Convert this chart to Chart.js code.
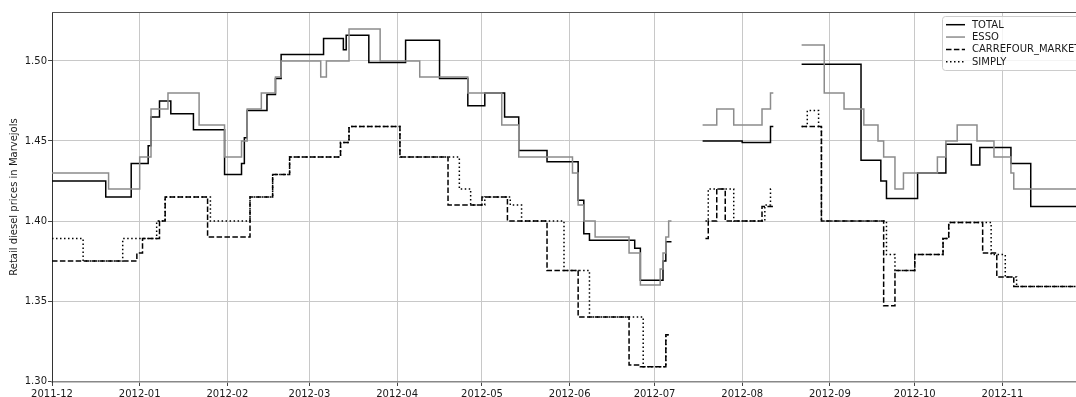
<!DOCTYPE html>
<html>
<head>
<meta charset="utf-8">
<script src="https://cdn.jsdelivr.net/npm/chart.js@4.4.1/dist/chart.umd.min.js"></script>
<style>
  html, body { margin: 0; padding: 0; background: #fff; overflow: hidden; }
  #chart { display: block; }
</style>
</head>
<body>
<canvas id="chart" width="1076" height="397"></canvas>
<script>
// x axis runs from the first day of Dec 2011, one tick per month
const xStart = '2011-12-01';
const xEnd = '2012-11-27';
const xTickLabels = ['2011-12', '2012-01', '2012-02', '2012-03', '2012-04', '2012-05',
                     '2012-06', '2012-07', '2012-08', '2012-09', '2012-10', '2012-11'];
const yTickValues = [1.30, 1.35, 1.40, 1.45, 1.50];
const yMin = 1.2994;
const yMax = 1.5306;

// each series: dates where the price changes, and the new price (null = no data)
const totalDates = ['2011-12-01', '2011-12-20', '2011-12-29', '2012-01-04', '2012-01-05', '2012-01-08',
  '2012-01-12', '2012-01-20', '2012-01-31', '2012-02-06', '2012-02-07', '2012-02-08', '2012-02-15',
  '2012-02-18', '2012-02-20', '2012-03-06', '2012-03-13', '2012-03-14', '2012-03-22', '2012-04-04',
  '2012-04-16', '2012-04-26', '2012-05-02', '2012-05-09', '2012-05-14', '2012-05-24', '2012-06-04',
  '2012-06-06', '2012-06-08', '2012-06-24', '2012-06-26', '2012-07-04', '2012-07-05', '2012-07-07',
  '2012-07-12', '2012-07-18', '2012-08-01', '2012-08-11', '2012-08-12', '2012-08-17', '2012-08-22',
  '2012-09-12', '2012-09-19', '2012-09-21', '2012-10-02', '2012-10-12', '2012-10-21', '2012-10-24',
  '2012-11-04', '2012-11-11', '2012-11-30'];
const totalValues = [1.425, 1.415, 1.436, 1.447, 1.465, 1.475,
  1.467, 1.457, 1.429, 1.436, 1.452, 1.469, 1.479,
  1.489, 1.504, 1.514, 1.507, 1.516, 1.499, 1.513,
  1.489, 1.472, 1.480, 1.465, 1.444, 1.437, 1.413,
  1.392, 1.388, 1.383, 1.363, 1.375, 1.387, 1.387,
  null, 1.450, 1.449, 1.459, 1.459, null, 1.498,
  1.438, 1.425, 1.414, 1.430, 1.448, 1.435, 1.446,
  1.436, 1.409, 1.409];

const essoDates = ['2011-12-01', '2011-12-21', '2012-01-01', '2012-01-05', '2012-01-11', '2012-01-22',
  '2012-01-31', '2012-02-06', '2012-02-08', '2012-02-13', '2012-02-18', '2012-02-20', '2012-03-05',
  '2012-03-07', '2012-03-15', '2012-03-26', '2012-04-09', '2012-04-26', '2012-05-08', '2012-05-14',
  '2012-06-02', '2012-06-04', '2012-06-06', '2012-06-10', '2012-06-22', '2012-06-26', '2012-07-03',
  '2012-07-04', '2012-07-05', '2012-07-06', '2012-07-07', '2012-07-12', '2012-07-18', '2012-07-23',
  '2012-07-29', '2012-08-08', '2012-08-11', '2012-08-12', '2012-08-17', '2012-08-22', '2012-08-30',
  '2012-09-06', '2012-09-13', '2012-09-18', '2012-09-20', '2012-09-24', '2012-09-27', '2012-10-09',
  '2012-10-12', '2012-10-16', '2012-10-23', '2012-10-29', '2012-11-04', '2012-11-05', '2012-11-30'];
const essoValues = [1.430, 1.420, 1.440, 1.470, 1.480, 1.460,
  1.440, 1.450, 1.470, 1.480, 1.490, 1.500, 1.490,
  1.500, 1.520, 1.500, 1.490, 1.480, 1.460, 1.440,
  1.430, 1.410, 1.400, 1.390, 1.380, 1.360, 1.370,
  1.380, 1.390, 1.400, 1.400, null, 1.460, 1.470,
  1.460, 1.470, 1.480, 1.480, null, 1.510, 1.480,
  1.470, 1.460, 1.450, 1.440, 1.420, 1.430, 1.440,
  1.450, 1.460, 1.450, 1.440, 1.430, 1.420, 1.420];

const carrefourDates = ['2011-12-01', '2011-12-31', '2012-01-02', '2012-01-08', '2012-01-10', '2012-01-25',
  '2012-02-09', '2012-02-17', '2012-02-23', '2012-03-12', '2012-03-15', '2012-04-02', '2012-04-19',
  '2012-05-01', '2012-05-10', '2012-05-24', '2012-06-04', '2012-06-22', '2012-06-26', '2012-07-05',
  '2012-07-06', '2012-07-12', '2012-07-19', '2012-07-20', '2012-07-23', '2012-07-26', '2012-08-08',
  '2012-08-12', '2012-08-17', '2012-08-22', '2012-08-29', '2012-09-20', '2012-09-24', '2012-10-01',
  '2012-10-11', '2012-10-13', '2012-10-25', '2012-10-30', '2012-11-05', '2012-11-30'];
const carrefourValues = [1.375, 1.380, 1.389, 1.400, 1.415, 1.390,
  1.415, 1.429, 1.440, 1.449, 1.459, 1.440, 1.410,
  1.415, 1.400, 1.369, 1.340, 1.310, 1.309, 1.329,
  1.329, null, 1.389, 1.400, 1.420, 1.400, 1.409,
  1.409, null, 1.459, 1.400, 1.347, 1.369, 1.379,
  1.389, 1.399, 1.380, 1.365, 1.359, 1.359];

const simplyDates = ['2011-12-01', '2011-12-12', '2011-12-26', '2012-01-07', '2012-01-10', '2012-01-26',
  '2012-02-09', '2012-02-17', '2012-02-23', '2012-03-12', '2012-03-15', '2012-04-02', '2012-04-23',
  '2012-04-27', '2012-05-02', '2012-05-11', '2012-05-15', '2012-05-30', '2012-06-08', '2012-06-27',
  '2012-07-05', '2012-07-06', '2012-07-12', '2012-07-19', '2012-07-20', '2012-07-29', '2012-08-09',
  '2012-08-11', '2012-08-12', '2012-08-17', '2012-08-22', '2012-08-24', '2012-08-28', '2012-08-29',
  '2012-09-21', '2012-09-24', '2012-10-01', '2012-10-11', '2012-10-13', '2012-10-28', '2012-11-02',
  '2012-11-06', '2012-11-30'];
const simplyValues = [1.389, 1.375, 1.389, 1.400, 1.415, 1.400,
  1.415, 1.429, 1.440, 1.449, 1.459, 1.440, 1.420,
  1.410, 1.415, 1.410, 1.400, 1.369, 1.340, 1.309,
  1.329, 1.329, null, 1.400, 1.420, 1.400, 1.410,
  1.420, 1.420, null, 1.459, 1.469, 1.459, 1.400,
  1.379, 1.369, 1.379, 1.389, 1.399, 1.379, 1.365,
  1.359, 1.359];

// days since xStart, used as the linear x value
function dayOf(s) {
  const p = s.split('-').map(Number);
  const b = xStart.split('-').map(Number);
  return (Date.UTC(p[0], p[1] - 1, p[2] || 1) - Date.UTC(b[0], b[1] - 1, b[2])) / 86400000;
}

function points(dates, values) {
  return dates.map((d, i) => ({ x: dayOf(d), y: values[i] }));
}

const FONT = { family: 'DejaVu Sans', size: 10 };
const TEXT = '#1a1a1a';

// matplotlib-like legend box in the upper right corner of the plot
const boxLegend = {
  id: 'boxLegend',
  afterDraw(chart) {
    const ctx = chart.ctx;
    const x0 = 942.5, y0 = 16.5, w = 160, h = 54;
    ctx.save();
    ctx.beginPath();
    ctx.roundRect(x0, y0, w, h, 3);
    ctx.fillStyle = 'rgba(255,255,255,0.8)';
    ctx.fill();
    ctx.strokeStyle = '#cccccc';
    ctx.lineWidth = 1;
    ctx.stroke();
    ctx.font = '10px "DejaVu Sans"';
    ctx.textBaseline = 'middle';
    ctx.fillStyle = TEXT;
    chart.data.datasets.forEach((ds, i) => {
      const y = 24.7 + i * 12.35;
      ctx.beginPath();
      ctx.setLineDash(ds.borderDash || []);
      ctx.strokeStyle = ds.borderColor;
      ctx.lineWidth = ds.borderWidth;
      ctx.moveTo(946, y);
      ctx.lineTo(965, y);
      ctx.stroke();
      ctx.setLineDash([]);
      ctx.fillText(ds.label, 972, y + 0.5);
    });
    ctx.restore();
  }
};

// top spine of the frame
const topSpine = {
  id: 'topSpine',
  afterDraw(chart) {
    const { ctx, chartArea } = chart;
    ctx.save();
    ctx.strokeStyle = '#555';
    ctx.lineWidth = 1;
    ctx.beginPath();
    ctx.moveTo(chartArea.left, chartArea.top + 0.5);
    ctx.lineTo(chartArea.right, chartArea.top + 0.5);
    ctx.stroke();
    ctx.restore();
  }
};

// horizontal first, then vertical at the date of the change
const lineStyle = { borderWidth: 1.5, pointRadius: 0, stepped: 'before', spanGaps: false, fill: false };

new Chart(document.getElementById('chart'), {
  type: 'line',
  data: {
    datasets: [
      { label: 'TOTAL', data: points(totalDates, totalValues), borderColor: '#000000', borderDash: [], order: 4, ...lineStyle },
      { label: 'ESSO', data: points(essoDates, essoValues), borderColor: '#8c8c8c', borderDash: [], order: 3, ...lineStyle },
      { label: 'CARREFOUR_MARKET', data: points(carrefourDates, carrefourValues), borderColor: '#000000', borderDash: [5.5, 2.4], order: 2, ...lineStyle },
      { label: 'SIMPLY', data: points(simplyDates, simplyValues), borderColor: '#000000', borderDash: [1.5, 2.5], order: 1, ...lineStyle }
    ]
  },
  options: {
    responsive: false,
    animation: false,
    devicePixelRatio: 1,
    layout: { padding: { top: 12, right: 0, bottom: 0, left: 0 } },
    plugins: {
      legend: { display: false },
      tooltip: { enabled: false }
    },
    scales: {
      x: {
        type: 'linear',
        min: dayOf(xStart),
        max: dayOf(xEnd),
        afterBuildTicks: (scale) => { scale.ticks = xTickLabels.map(l => ({ value: dayOf(l) })); },
        afterFit: (scale) => { scale.height = 15; },
        ticks: {
          callback: (v, i) => xTickLabels[i],
          autoSkip: false,
          maxRotation: 0,
          padding: 2,
          font: FONT,
          color: TEXT
        },
        grid: { color: '#c8c8c8', lineWidth: 1, tickColor: '#444', tickLength: 4 },
        border: { color: '#888', width: 1.5 }
      },
      y: {
        min: yMin,
        max: yMax,
        afterBuildTicks: (scale) => { scale.ticks = yTickValues.map(v => ({ value: v })); },
        afterFit: (scale) => { scale.width = 52; },
        ticks: {
          callback: (v) => v.toFixed(2),
          padding: 1,
          font: FONT,
          color: TEXT
        },
        grid: { color: '#c8c8c8', lineWidth: 1, tickColor: '#444', tickLength: 4 },
        border: { color: '#333', width: 1 },
        title: {
          display: true,
          text: 'Retail diesel prices in Marvejols',
          font: FONT,
          color: TEXT,
          padding: { top: 8, bottom: 0 }
        }
      }
    }
  },
  plugins: [boxLegend, topSpine]
});
</script>
</body>
</html>
